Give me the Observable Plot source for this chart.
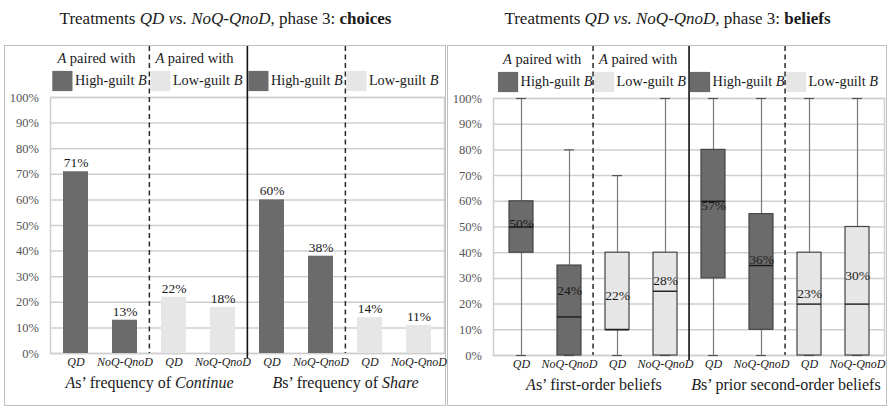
<!DOCTYPE html>
<html>
<head>
<meta charset="utf-8">
<script src="https://cdn.jsdelivr.net/npm/d3@7"></script>
<script src="https://cdn.jsdelivr.net/npm/@observablehq/plot@0.6"></script>
<style>
  body { margin: 0; background: #fff; }
  #root { position: relative; width: 889px; height: 408px; background: #fff; font-family: "Liberation Serif", "Times New Roman", serif; color: #1a1a1a; overflow: hidden; }
  .title { position: absolute; top: 10px; text-align: center; font-size: 17px; line-height: 18px; white-space: nowrap; }
  .border { position: absolute; box-sizing: border-box; border: 1px solid #c0c0c0; }
  .panel { position: absolute; line-height: 0; }
  .panel svg { display: block; overflow: visible; }
</style>
</head>
<body>
<div id="root">
  <div class="title" style="left:5px;width:441px">Treatments <i>QD vs. NoQ-QnoD</i>, phase 3: <b>choices</b></div>
  <div class="title" style="left:448px;width:439px">Treatments <i>QD vs. NoQ-QnoD</i>, phase 3: <b>beliefs</b></div>
  <div class="border" style="left:4px;top:45px;width:442px;height:361px"></div>
  <div class="border" style="left:447px;top:45px;width:440px;height:361px"></div>
  <div class="panel" id="p1" style="left:5px;top:46px"></div>
  <div class="panel" id="p2" style="left:448px;top:46px"></div>
</div>
<script>
// ---------- data ----------
const treatments = ["QD", "NoQ-QnoD", "QD", "NoQ-QnoD", "QD", "NoQ-QnoD", "QD", "NoQ-QnoD"];
const guiltOf    = ["High", "High", "Low", "Low", "High", "High", "Low", "Low"];
const keys = treatments.map((t, i) => `${i}|${t}`);

// choices (bars), percent
const choicePct = [71, 13, 22, 18, 60, 38, 14, 11];

// beliefs (box plots), percent
const beliefMin    = [0, 0, 0, 0, 0, 0, 0, 0];
const beliefQ1     = [40, 0, 10, 0, 30, 10, 0, 0];
const beliefMedian = [50, 15, 10, 25, 60, 35, 20, 20];
const beliefQ3     = [60, 35, 40, 40, 80, 55, 40, 50];
const beliefMax    = [100, 80, 70, 100, 100, 100, 100, 100];
const beliefMean   = [50, 24, 22, 28, 57, 36, 23, 30];

const yTicks = [0, 10, 20, 30, 40, 50, 60, 70, 80, 90, 100];
const legendLabels = ["High-guilt *B*", "Low-guilt *B*", "High-guilt *B*", "Low-guilt *B*"];
const pairedLabel = "*A* paired with";
const choiceGroupLabels = ["*A*s’ frequency of *Continue*", "*B*s’ frequency of *Share*"];
const beliefGroupLabels = ["*A*s’ first-order beliefs", "*B*s’ prior second-order beliefs"];

// ---------- styles ----------
const DARK = "#6b6b6b", LIGHT = "#e6e6e6", GRID = "#cfcfcf";

function basePlot(opts, groupLabels, marks) {
  const step = (opts.width - opts.marginLeft - opts.marginRight) / 8;
  const legend = [0, 1, 2, 3].map(g => ({key: keys[g * 2], guilt: guiltOf[g * 2], label: legendLabels[g]}));
  const paired = legend.slice(0, 2);
  const dashed = [keys[2], keys[6]];
  const solid = [keys[4]];
  const groupLab = [{key: keys[1], text: groupLabels[0]}, {key: keys[5], text: groupLabels[1]}];
  return Plot.plot({
    ...opts,
    style: {fontFamily: "'Liberation Serif', 'Times New Roman', serif", fontSize: "13px", background: "transparent", color: "#1a1a1a", overflow: "visible"},
    x: {domain: keys, paddingInner: 0.5, paddingOuter: 0.25, label: null, axis: null},
    y: {domain: [0, 100], label: null, axis: null},
    color: {domain: ["High", "Low"], range: [DARK, LIGHT]},
    marks: [
      Plot.ruleY(yTicks, {stroke: GRID, strokeWidth: 1.5}),
      Plot.frame({stroke: GRID, strokeWidth: 1.5}),
      ...marks,
      Plot.ruleX(dashed, {x: d => d, dx: -step / 2, insetTop: -opts.marginTop, stroke: "#2a2a2a", strokeWidth: 1.5, strokeDasharray: "5,3.5"}),
      Plot.ruleX(solid, {x: d => d, dx: -step / 2, insetTop: -opts.marginTop, insetBottom: -5, stroke: "#111", strokeWidth: 1.6}),
      Plot.axisY({ticks: yTicks, tickFormat: d => d + "%", tickSize: 0, tickPadding: 11.5, fontSize: 12.5, color: "#555", label: null}),
      Plot.axisX({tickSize: 0, tickPadding: 4, tickFormat: k => k.split("|")[1], fontSize: 12, fontStyle: "italic", color: "#1a1a1a", label: null}),
      Plot.dot(legend, {x: "key", frameAnchor: "top", dx: -step / 2 + 11, dy: -16.5, symbol: "square", r: 11.4, fill: "guilt"}),
      Plot.text(legend, {x: "key", frameAnchor: "top", lineAnchor: "middle", text: "label", textAnchor: "start", dx: -step / 2 + 23.5, dy: -17, fontSize: 14.3}),
      Plot.text(paired, {x: "key", frameAnchor: "top", lineAnchor: "middle", text: () => pairedLabel, textAnchor: "start", dx: -step / 2 + 6, dy: -39, fontSize: 14.5}),
      Plot.text(groupLab, {x: "key", frameAnchor: "bottom", lineAnchor: "middle", text: "text", dx: step / 2, dy: 29, fontSize: 16})
    ]
  });
}

function richify(svg) {
  svg.querySelectorAll("text").forEach(t => {
    const s = t.textContent;
    if (!s.includes("*")) return;
    while (t.firstChild) t.removeChild(t.firstChild);
    s.split("*").forEach((part, i) => {
      if (!part) return;
      const ts = document.createElementNS("http://www.w3.org/2000/svg", "tspan");
      if (i % 2 === 1) ts.setAttribute("font-style", "italic");
      ts.textContent = part;
      t.appendChild(ts);
    });
  });
}

// ---------- left panel: choices ----------
const choices = keys.map((k, i) => ({key: k, guilt: guiltOf[i], value: choicePct[i]}));
const p1 = basePlot(
  {width: 440, height: 359, marginLeft: 45, marginRight: 1, marginTop: 51, marginBottom: 52},
  choiceGroupLabels,
  [
    Plot.barY(choices, {x: "key", y: "value", fill: "guilt"}),
    Plot.text(choices, {x: "key", y: "value", text: d => d.value + "%", dy: -9, fontSize: 13.5, fill: "#1a1a1a"})
  ]
);
richify(p1);
document.getElementById("p1").appendChild(p1);

// ---------- right panel: beliefs ----------
const beliefs = keys.map((k, i) => ({
  key: k, guilt: guiltOf[i],
  min: beliefMin[i], q1: beliefQ1[i], median: beliefMedian[i], q3: beliefQ3[i], max: beliefMax[i], mean: beliefMean[i]
}));
const p2 = basePlot(
  {width: 438, height: 359, marginLeft: 45, marginRight: 2, marginTop: 52, marginBottom: 50},
  beliefGroupLabels,
  [
    Plot.ruleX(beliefs, {x: "key", y1: "min", y2: "max", stroke: "#7a7a7a", strokeWidth: 1.2}),
    Plot.tickY(beliefs, {x: "key", y: "max", insetLeft: 7, insetRight: 7, stroke: "#555", strokeWidth: 1.2}),
    Plot.tickY(beliefs, {x: "key", y: "min", insetLeft: 7, insetRight: 7, stroke: "#555", strokeWidth: 1.2}),
    Plot.barY(beliefs, {x: "key", y1: "q1", y2: "q3", fill: "guilt", stroke: "#444", strokeWidth: 1.2}),
    Plot.tickY(beliefs, {x: "key", y: "median", stroke: "#1a1a1a", strokeWidth: 1.4}),
    Plot.text(beliefs, {x: "key", y: "mean", text: d => d.mean + "%", dy: -3, fontSize: 13.5, fill: "#1a1a1a"})
  ]
);
richify(p2);
document.getElementById("p2").appendChild(p2);
</script>
</body>
</html>
